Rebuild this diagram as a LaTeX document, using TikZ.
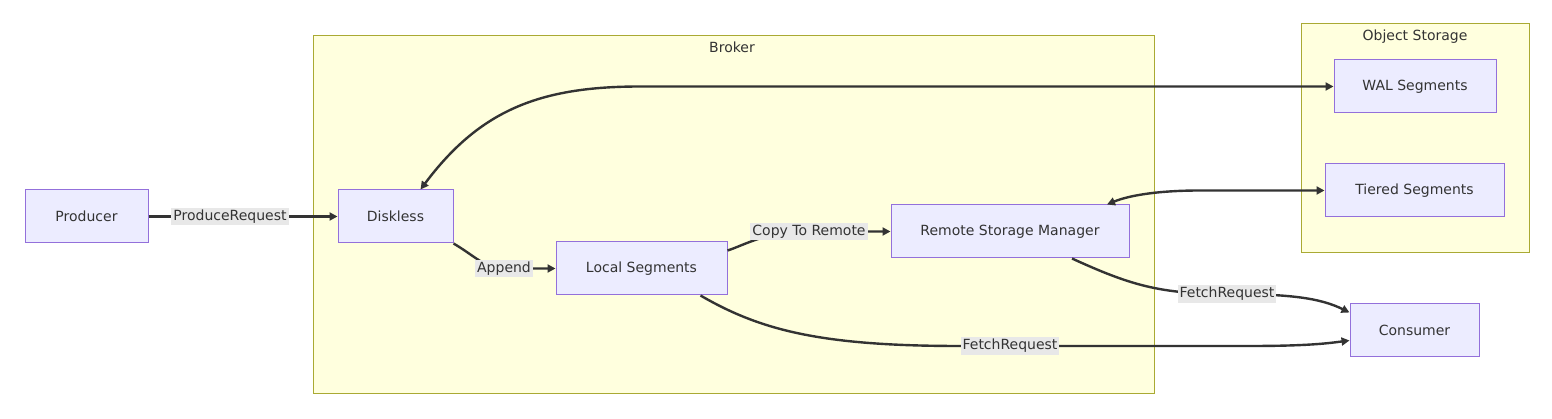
\documentclass[tikz,border=0pt]{standalone}
\usepackage{fontspec}
\setmainfont{DejaVu Sans}
\usetikzlibrary{arrows.meta}
\definecolor{nodefill}{HTML}{ECECFF}
\definecolor{nodeline}{HTML}{9370DB}
\definecolor{clfill}{HTML}{FFFFDE}
\definecolor{clline}{HTML}{AAAA33}
\definecolor{edgecol}{HTML}{333333}
\definecolor{lblfill}{HTML}{E8E8E8}
\definecolor{txt}{HTML}{333333}
\tikzset{
  box/.style={draw=nodeline, fill=nodefill, line width=1pt, minimum height=53pt, inner sep=0pt, text=txt, font=\fontsize{14}{16}\selectfont},
  cluster/.style={draw=clline, fill=clfill, line width=1pt},
  cltitle/.style={text=txt, font=\fontsize{14}{16}\selectfont},
  elabel/.style={fill=lblfill, inner sep=2pt, text=txt, font=\fontsize{14}{16}\selectfont},
  conn/.style={draw=edgecol, line width=2.4pt, -{Triangle[length=8pt,width=8pt]}},
  bconn/.style={draw=edgecol, line width=2.4pt, {Triangle[length=8pt,width=8pt]}-{Triangle[length=8pt,width=8pt]}},
}
\begin{document}
\begin{tikzpicture}[x=1pt,y=-1pt]
\useasboundingbox (0,0) rectangle (1552,419);
% clusters
\draw[cluster] (313,36) rectangle (1154,393);
\node[cltitle] (brokerT) at (732,47) {Broker};
\draw[cluster] (1301,24) rectangle (1529,253);
\node[cltitle] (osT) at (1415,37) {Object Storage};
% nodes
\node[box, minimum width=123pt] (prod) at (86.5,216.5) {Producer};
\node[box, minimum width=115pt] (dk) at (395.5,216.5) {Diskless};
\node[box, minimum width=171pt] (ls) at (641.5,268.5) {Local Segments};
\node[box, minimum width=238pt] (rsm) at (1010,231.5) {Remote Storage Manager};
\node[box, minimum width=162pt] (wal) at (1415,86.5) {WAL Segments};
\node[box, minimum width=179pt] (tier) at (1414.5,190.5) {Tiered Segments};
\node[box, minimum width=129pt] (cons) at (1414.5,330.5) {Consumer};
% label anchors
\coordinate (lpr) at (230,216.5);
\coordinate (lap) at (504,268.5);
\coordinate (lcr) at (809,231.5);
\coordinate (lf1) at (1227,294);
\coordinate (lf2) at (1010,346);
% edges
\draw[conn] (prod.east) -- (dk.west);
\draw[bconn] (wal.west) -- (640,86.5) .. controls (540,86.5) and (480,110) .. ([xshift=25pt]dk.north);
\draw[conn] (dk.south east) .. controls (475,256) and (485,268.5) .. (lap) -- (ls.west);
\draw[conn] ([yshift=18pt]ls.east) .. controls (745,245) and (765,231.5) .. (lcr) -- (rsm.west);
\draw[bconn] (tier.west) -- (1200,190.5) .. controls (1160,190.5) and (1130,195) .. ([xshift=97pt]rsm.north);
\draw[conn] ([xshift=62pt]rsm.south) .. controls (1130,285) and (1160,294) .. (lf1) .. controls (1290,294) and (1320,298) .. ([yshift=18pt]cons.west);
\draw[conn] ([xshift=59pt]ls.south) .. controls (760,330) and (820,346) .. (960,346) -- (lf2) -- (1250,346) .. controls (1310,346) and (1330,343) .. ([yshift=-10pt]cons.west);
% edge labels
\node[elabel] (tpr) at (lpr) {ProduceRequest};
\node[elabel] (tap) at (lap) {Append};
\node[elabel] (tcr) at (lcr) {Copy To Remote};
\node[elabel] (tf1) at (lf1) {FetchRequest};
\node[elabel] (tf2) at (lf2) {FetchRequest};
\end{tikzpicture}
\end{document}
